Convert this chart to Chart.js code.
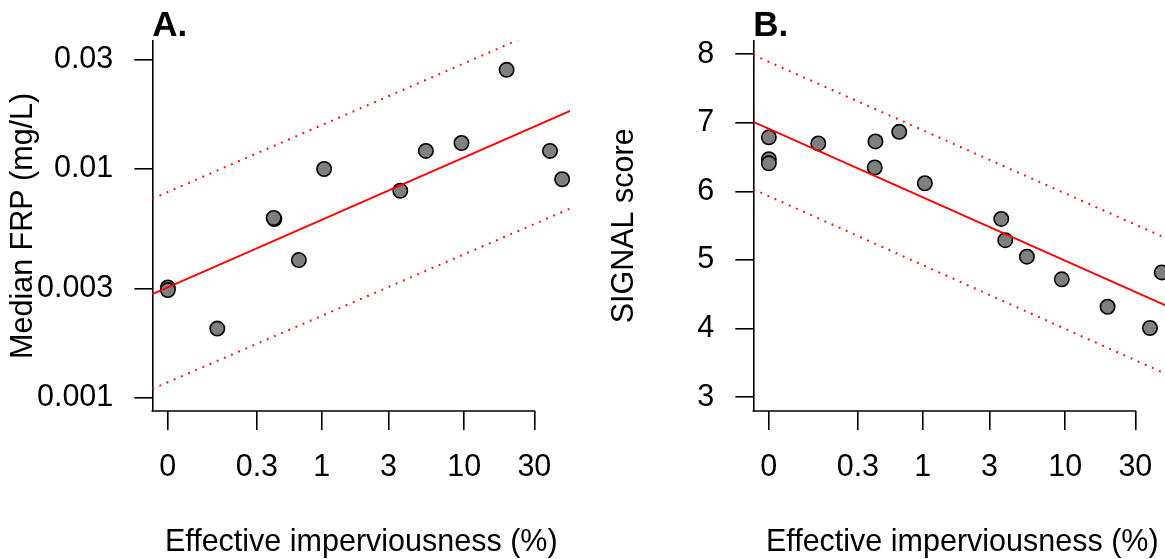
<!DOCTYPE html>
<html>
<head>
<meta charset="utf-8">
<script src="https://cdn.jsdelivr.net/npm/chart.js@4"></script>
<style>
  html, body { margin: 0; padding: 0; background: #fff; overflow: hidden; }
  body { width: 1165px; height: 559px; position: relative; }
  canvas { position: absolute; top: 0; }
  #panelA { left: 0; }
  #panelB { left: 601px; }
</style>
</head>
<body>
<canvas id="panelA" width="601" height="559"></canvas>
<canvas id="panelB" width="601" height="559"></canvas>
<script>
// x axis: effective imperviousness (%), drawn on log10(EI + 0.1)
const xTickValues = [0, 0.3, 1, 3, 10, 30];
const xTickLabels = ['0', '0.3', '1', '3', '10', '30'];
const xLimits = [-0.0215, 52.5];

// Panel A: median FRP (mg/L), log axis
const frpEI = [0, 0, 0.116, 0.425, 0.42, 0.669, 1.04, 3.63, 5.46, 9.58, 19.44, 38.3, 46.3];
const frpValues = [0.00303, 0.00295, 0.0020, 0.00604, 0.0061, 0.00399, 0.0100, 0.00803, 0.0120, 0.0130, 0.0272, 0.0120, 0.00902];
const frpFit = [0.00283, 0.01798];
const frpUpper = [0.007409, 0.04621];
const frpLower = [0.001088, 0.006711];
const frpTicks = [0.001, 0.003, 0.01, 0.03];
const frpLimits = [0.000871, 0.03648];

// Panel B: SIGNAL score
const signalEI = [0, 0, 0, 0.116, 0.426, 0.42, 0.662, 1.035, 3.63, 3.87, 5.46, 9.47, 19.44, 37.7, 45.3];
const signalValues = [6.79, 6.47, 6.41, 6.70, 6.73, 6.35, 6.87, 6.12, 5.60, 5.29, 5.05, 4.72, 4.32, 4.01, 4.82];
const signalFit = [7.015, 4.303];
const signalUpper = [7.99, 5.286];
const signalLower = [6.033, 3.306];
const signalTicks = [3, 4, 5, 6, 7, 8];
const signalLimits = [2.80, 8.198];

const FONT = '"Liberation Sans", Arial, Helvetica, sans-serif';
const TEXT_SIZE = 30.5;
const tx = v => Math.log10(v + 0.1);

function toPoints(xs, ys) {
	return xs.map((x, i) => ({ x: tx(x), y: ys[i] }));
}

// panel letter and the bottom axis line (which stops at the last tick, as in R)
const panelDecor = {
	id: 'panelDecor',
	afterDraw(chart, _args, opts) {
		const { ctx, chartArea } = chart;
		const xScale = chart.scales.x;
		const lastTick = xScale.getPixelForValue(tx(xTickValues[xTickValues.length - 1]));
		ctx.save();
		ctx.strokeStyle = '#000';
		ctx.lineWidth = 1.6;
		ctx.beginPath();
		ctx.moveTo(chartArea.left - 0.8, chartArea.bottom);
		ctx.lineTo(lastTick + 0.8, chartArea.bottom);
		ctx.stroke();
		ctx.fillStyle = '#000';
		ctx.font = 'bold 35px ' + FONT;
		ctx.textBaseline = 'alphabetic';
		ctx.textAlign = 'left';
		ctx.fillText(opts.label, chartArea.left, chartArea.top - 5);
		ctx.restore();
	}
};

function lineDataset(ys, dashed, width) {
	return {
		data: toPoints(xLimits, ys),
		showLine: true,
		borderColor: '#ff0000',
		borderWidth: width,
		borderDash: dashed ? [1.8, 6] : [],
		pointRadius: 0,
		order: 0
	};
}

function buildPanel(canvas, { label, xs, ys, fit, upper, lower, yType, yTicks, yLimits, yTitle }) {
	return new Chart(canvas, {
		type: 'scatter',
		data: {
			datasets: [
				lineDataset(fit, false, 2),
				lineDataset(upper, true, 2),
				lineDataset(lower, true, 2),
				{
					data: toPoints(xs, ys),
					pointRadius: 7.2,
					pointBorderWidth: 1.6,
					pointBackgroundColor: '#7f7f7f',
					pointBorderColor: '#000',
					order: 1
				}
			]
		},
		options: {
			responsive: false,
			animation: false,
			layout: { padding: { top: 40.7, right: 30.8, left: 0, bottom: 0 } },
			plugins: {
				legend: { display: false },
				tooltip: { enabled: false },
				panelDecor: { label }
			},
			scales: {
				x: {
					type: 'linear',
					min: tx(xLimits[0]),
					max: tx(xLimits[1]),
					afterBuildTicks: scale => {
						scale.ticks = xTickValues.map(v => ({ value: tx(v) }));
					},
					afterFit: scale => { scale.height = 148; },
					border: { display: false },
					grid: {
						drawOnChartArea: false,
						drawTicks: true,
						tickLength: 19,
						color: '#000',
						lineWidth: 1.6
					},
					ticks: {
						autoSkip: false,
						maxRotation: 0,
						minRotation: 0,
						padding: 19.7,
						color: '#000',
						font: { family: FONT, size: TEXT_SIZE, lineHeight: 1.2 },
						callback: (_v, i) => xTickLabels[i]
					},
					title: {
						display: true,
						text: 'Effective imperviousness (%)',
						color: '#000',
						font: { family: FONT, size: TEXT_SIZE, lineHeight: 1.1 },
						padding: { top: 0, bottom: 0 }
					}
				},
				y: {
					type: yType,
					min: yLimits[0],
					max: yLimits[1],
					afterBuildTicks: scale => {
						scale.ticks = yTicks.map(v => ({ value: v }));
					},
					afterFit: scale => { scale.width = 152.3; },
					border: { display: true, color: '#000', width: 1.6 },
					grid: {
						drawOnChartArea: false,
						drawTicks: true,
						tickLength: 18,
						color: '#000',
						lineWidth: 1.6
					},
					ticks: {
						autoSkip: false,
						padding: 21,
						color: '#000',
						font: { family: FONT, size: TEXT_SIZE, lineHeight: 1.2 },
						callback: v => String(v)
					},
					title: {
						display: true,
						text: yTitle,
						color: '#000',
						font: { family: FONT, size: TEXT_SIZE, lineHeight: 1.1 },
						padding: { top: 6.5, bottom: 0 }
					}
				}
			}
		},
		plugins: [panelDecor]
	});
}

buildPanel(document.getElementById('panelA'), {
	label: 'A.',
	xs: frpEI,
	ys: frpValues,
	fit: frpFit,
	upper: frpUpper,
	lower: frpLower,
	yType: 'logarithmic',
	yTicks: frpTicks,
	yLimits: frpLimits,
	yTitle: 'Median FRP (mg/L)'
});

buildPanel(document.getElementById('panelB'), {
	label: 'B.',
	xs: signalEI,
	ys: signalValues,
	fit: signalFit,
	upper: signalUpper,
	lower: signalLower,
	yType: 'linear',
	yTicks: signalTicks,
	yLimits: signalLimits,
	yTitle: 'SIGNAL score'
});
</script>
</body>
</html>
